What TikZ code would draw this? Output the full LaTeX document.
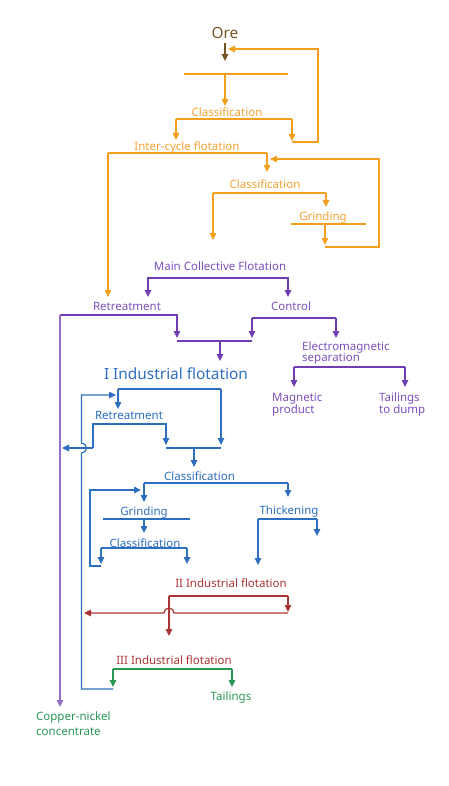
\documentclass[tikz,border=0pt]{standalone}
\usepackage{fontspec}
\setmainfont{Noto Sans}
\usepackage{xcolor}
\usepackage{tikz}
\usetikzlibrary{arrows.meta}

\definecolor{orebrown}{RGB}{120,85,40}
\definecolor{orgline}{RGB}{243,158,28}
\definecolor{orgtext}{RGB}{246,162,50}
\definecolor{purpline}{RGB}{112,62,178}
\definecolor{purptext}{RGB}{125,80,190}
\definecolor{bluline}{RGB}{45,110,190}
\definecolor{redline}{RGB}{172,52,52}
\definecolor{grnline}{RGB}{40,150,85}

\begin{document}
\begin{tikzpicture}[x=1pt,y=-1pt,>={Triangle[length=7pt,width=6.5pt]},
  txt/.style={inner sep=0pt,anchor=base,font=\fontsize{11.5}{14}\selectfont},
  lefttxt/.style={txt,anchor=base west},
  bigtxt/.style={inner sep=0pt,anchor=base,font=\fontsize{15.4}{18}\selectfont},
  ln/.style={line width=1.2pt}]
  \useasboundingbox (0,0) rectangle (448,786);

  % ore and first grinding cycle
  \node[bigtxt,orebrown] (ore) at (225,39) {Ore};
  \coordinate (oreIn) at (225,61);
  \draw[ln,orebrown,->,shorten <=4pt] (ore.south) -- (oreIn);

  \node[txt,orgtext] (clsA) at (227,116.5) {Classification};
  \node[txt,orgtext] (icf) at (187,150.5) {Inter-cycle flotation};
  \node[txt,orgtext] (clsB) at (265,189) {Classification};
  \node[txt,orgtext] (grindA) at (323,221) {Grinding};

  \begin{scope}[ln,orgline]
    \coordinate (feedL) at (184,74);
    \coordinate (feedR) at (288,74);
    \coordinate (feedM) at (225,74);
    \coordinate (clsAin) at (225,106);
    \draw (feedL) -- (feedR);
    \draw[->] (feedM) -- (clsAin);

    \coordinate (clsAL) at (176,119);
    \coordinate (clsAR) at (292,119);
    \draw (clsAL) -- (clsAR);
    \draw[->] (clsAL) -- (176,140);
    \draw[->] (clsAR) -- (292,141);
    \coordinate (loopA) at (318,142);
    \coordinate (loopAtop) at (318,49);
    \coordinate (oreRet) at (228,49);
    \draw[->] (292,142) -- (loopA) -- (loopAtop) -- (oreRet);

    \coordinate (icfL) at (108,153);
    \coordinate (icfR) at (267,153);
    \draw (icfL) -- (icfR);
    \draw[->] (icfR) -- (267,172);
    \draw[->] (icfL) -- (108,297);

    \coordinate (clsBL) at (213,193);
    \coordinate (clsBR) at (326,193);
    \draw (clsBL) -- (clsBR);
    \draw[->] (clsBL) -- (213,240);
    \draw[->] (clsBR) -- (326,207);

    \coordinate (grindAL) at (291,224);
    \coordinate (grindAR) at (366,224);
    \coordinate (grindAM) at (325,224);
    \draw (grindAL) -- (grindAR);
    \draw[->] (grindAM) -- (325,245);
    \coordinate (loopB) at (379,247);
    \coordinate (loopBtop) at (379,159);
    \coordinate (clsBret) at (270,159);
    \draw[->] (325,247) -- (loopB) -- (loopBtop) -- (clsBret);
  \end{scope}

  % main collective flotation
  \node[txt,purptext] (mcf) at (220,270.5) {Main Collective Flotation};
  \node[txt,purptext] (retrA) at (127,310) {Retreatment};
  \node[txt,purptext] (ctrl) at (291,310) {Control};
  \node[lefttxt,purptext] (ems) at (302,350) {Electromagnetic};
  \node[lefttxt,purptext] (ems2) at (302,361.7) {separation};
  \node[lefttxt,purptext] (magp) at (272,401.7) {Magnetic};
  \node[lefttxt,purptext] (magp2) at (272,413.3) {product};
  \node[lefttxt,purptext] (dump) at (379,401.7) {Tailings};
  \node[lefttxt,purptext] (dump2) at (379,413.3) {to dump};

  \begin{scope}[ln,purpline]
    \coordinate (mcfL) at (148,278);
    \coordinate (mcfR) at (288,278);
    \draw[line width=2pt] (mcfL) -- (mcfR);
    \foreach \xx in {148,288}
      \draw[line width=2pt,->] (\xx,277) -- (\xx,297);

    \coordinate (retrAL) at (60,315);
    \coordinate (retrAR) at (177,315);
    \coordinate (cuIn) at (60,707);
    \draw[->] (retrAL) -- (retrAR) -- (177,338);
    \draw[->,purpline!75] (retrAL) -- (cuIn);

    \coordinate (ctrlL) at (252,318);
    \coordinate (ctrlR) at (336,318);
    \draw (ctrlL) -- (ctrlR);
    \draw[->] (ctrlL) -- (252,338);
    \draw[->] (ctrlR) -- (336,338);

    \coordinate (mixL) at (177,341);
    \coordinate (mixR) at (252,341);
    \draw (mixL) -- (mixR);
    \draw[->] (220,341) -- (220,361);

    \coordinate (emsL) at (294,367);
    \coordinate (emsR) at (405,367);
    \draw (emsL) -- (emsR);
    \draw[->] (emsL) -- (294,387);
    \draw[->] (emsR) -- (405,387);
  \end{scope}

  % I industrial flotation
  \node[bigtxt,bluline] (indI) at (176,379.3) {I Industrial flotation};
  \node[txt,bluline] (retrB) at (129,419.3) {Retreatment};
  \node[txt,bluline] (clsC) at (199.5,480) {Classification};
  \node[txt,bluline] (grindB) at (144,515) {Grinding};
  \node[txt,bluline] (clsD) at (145,547) {Classification};
  \node[txt,bluline] (thick) at (289,514) {Thickening};

  \begin{scope}[ln,bluline]
    \coordinate (indL) at (118,389);
    \coordinate (indR) at (221,389);
    \draw (indL) -- (indR);
    \draw[->] (indL) -- (118,409);
    \draw[->] (indR) -- (221,445);

    \coordinate (retrBo) at (93,448);
    \coordinate (retrBc) at (93,424);
    \coordinate (retrBr) at (166,424);
    \coordinate (purpHit) at (62,448);
    \draw[->] (retrBo) -- (retrBc) -- (retrBr) -- (166,445);
    \draw[->] (retrBo) -- (purpHit);

    \coordinate (mixBL) at (166,448);
    \coordinate (mixBR) at (221,448);
    \draw (mixBL) -- (mixBR);
    \draw[->] (194,448) -- (194,467);

    \coordinate (clsCL) at (144,483);
    \coordinate (clsCR) at (288,483);
    \draw (clsCL) -- (clsCR);
    \draw[->] (clsCL) -- (144,502);
    \draw[->] (clsCR) -- (288,497);

    \coordinate (grindBL) at (103,519);
    \coordinate (grindBR) at (190,519);
    \draw (grindBL) -- (grindBR);
    \draw[->] (144,519) -- (144,533);

    \coordinate (clsDL) at (101,548);
    \coordinate (clsDR) at (187,548);
    \draw (clsDL) -- (clsDR);
    \draw[->] (clsDL) -- (101,564);
    \draw[->] (clsDR) -- (187,564);
    \draw[->] (101,566) -- (90,566) -- (90,490) -- (141,490);

    \coordinate (thickL) at (258,519);
    \coordinate (thickR) at (317,519);
    \draw (thickL) -- (thickR);
    \draw[->] (thickL) -- (258,565);
    \draw[->] (thickR) -- (317,536);

    % return from III flotation, jumping over the outlet line
    \coordinate (backB) at (81.5,689);
    \coordinate (retrBin) at (116,395);
    \draw[->] (113,689) -- (backB) -- (81.5,453) arc (90:-90:5) -- (81.5,395) -- (retrBin);
  \end{scope}

  % II and III industrial flotation
  \node[txt,redline] (indII) at (231,587.7) {II Industrial flotation};
  \node[txt,redline] (indIII) at (174,664) {III Industrial flotation};
  \node[txt,grnline] (tail) at (231,700.7) {Tailings};
  \node[lefttxt,grnline] (cuni) at (36,720) {Copper-nickel};
  \node[lefttxt,grnline] (cuni2) at (36,735.7) {concentrate};

  \begin{scope}[ln,redline]
    \coordinate (indIIL) at (169,596);
    \coordinate (indIIR) at (288,596);
    \draw (indIIL) -- (indIIR);
    \draw[->] (indIIR) -- (288,612);
    \draw[->] (indIIL) -- (169,636);
    \coordinate (blueHit) at (84,613);
    \draw[->] (288,613) -- (174,613) arc (0:-180:5) -- (blueHit);
  \end{scope}

  \begin{scope}[ln,grnline]
    \coordinate (indIIIL) at (113,669);
    \coordinate (indIIIR) at (232,669);
    \draw (indIIIL) -- (indIIIR);
    \draw[->] (indIIIL) -- (113,687);
    \draw[->] (indIIIR) -- (232,687);
  \end{scope}
\end{tikzpicture}
\end{document}
